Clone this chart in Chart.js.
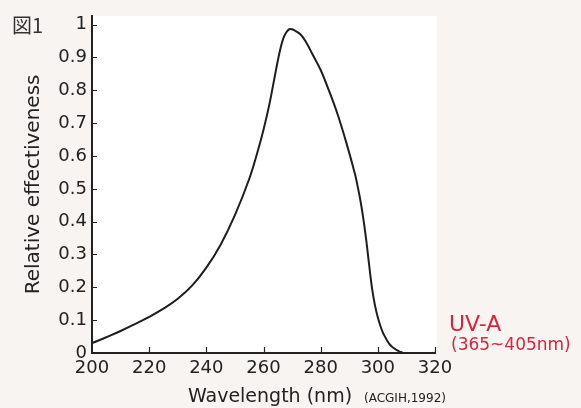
<!DOCTYPE html>
<html>
<head>
<meta charset="utf-8">
<script src="https://cdn.jsdelivr.net/npm/chart.js@4"></script>
<style>
  html, body { margin: 0; padding: 0; background: #f7f4f1; }
  #wrap { width: 581px; height: 408px; }
</style>
</head>
<body>
<div id="wrap"><canvas id="uvChart" width="581" height="408"></canvas></div>
<script>
// ACGIH relative effectiveness curve
const wavelengths = [200, 205, 210, 215, 220, 225, 230, 235, 240, 245, 250, 255, 258, 260, 262, 264, 265, 266, 267, 268, 269, 270, 271, 273, 275, 277, 280, 283, 286, 289, 292, 293, 294, 295, 296, 297, 298, 299, 300, 301, 302, 304, 306, 308, 309];
const effectiveness = [0.03, 0.048, 0.067, 0.088, 0.11, 0.135, 0.165, 0.205, 0.26, 0.33, 0.42, 0.53, 0.615, 0.68, 0.755, 0.845, 0.89, 0.93, 0.96, 0.977, 0.986, 0.986, 0.982, 0.97, 0.945, 0.912, 0.862, 0.797, 0.725, 0.64, 0.545, 0.505, 0.46, 0.405, 0.34, 0.265, 0.195, 0.145, 0.108, 0.08, 0.058, 0.028, 0.012, 0.003, 0];

const xTicks = [200, 220, 240, 260, 280, 300, 320];
const yTicks = [0, 0.1, 0.2, 0.3, 0.4, 0.5, 0.6, 0.7, 0.8, 0.9, 1];

const FONT = "'DejaVu Sans', sans-serif";

/**
 * Page background plus white plot box
 */
const backdrop = {
  id: 'backdrop',
  beforeDraw(chart) {
    const { ctx, chartArea: a } = chart;
    ctx.save();
    ctx.fillStyle = '#f7f4f1';
    ctx.fillRect(0, 0, chart.width, chart.height);
    ctx.fillStyle = '#ffffff';
    ctx.fillRect(a.left, a.top, a.right - a.left + 2, a.bottom - a.top);
    ctx.restore();
  },
};

/**
 * Inward tick marks and the loose labels around the plot
 */
const extras = {
  id: 'extras',
  afterDraw(chart) {
    const { ctx, chartArea: a } = chart;
    const xs = chart.scales.x;
    const ys = chart.scales.y;
    ctx.save();
    ctx.strokeStyle = '#222';
    ctx.lineWidth = 1.2;
    ctx.beginPath();
    yTicks.forEach(v => {
      if (v === 0) return;
      const py = Math.round(ys.getPixelForValue(v)) + 0.5;
      ctx.moveTo(a.left, py);
      ctx.lineTo(a.left + 5, py);
    });
    xTicks.forEach(v => {
      if (v === 200) return;
      const px = Math.round(xs.getPixelForValue(v)) + 0.5;
      ctx.moveTo(px, a.bottom);
      ctx.lineTo(px, a.bottom - 6);
    });
    ctx.stroke();

    ctx.fillStyle = '#222';
    ctx.textBaseline = 'alphabetic';
    ctx.textAlign = 'center';
    ctx.font = `19px ${FONT}`;
    ctx.fillText('Wavelength (nm)', 270, 402);

    ctx.textAlign = 'left';
    ctx.font = `12px ${FONT}`;
    ctx.fillText('(ACGIH,1992)', 364, 402);

    ctx.font = `20px 'Noto Sans CJK JP', ${FONT}`;
    ctx.fillStyle = '#333';
    ctx.fillText('図1', 12, 33);

    ctx.fillStyle = '#d8243c';
    ctx.font = `22px ${FONT}`;
    ctx.fillText('UV-A', 449, 331);
    ctx.font = `17px ${FONT}`;
    ctx.fillText('(365~405nm)', 451, 350);
    ctx.restore();
  },
};

new Chart(document.getElementById('uvChart'), {
  type: 'line',
  data: {
    datasets: [
      {
        label: 'Relative effectiveness',
        data: wavelengths.map((w, i) => ({ x: w, y: effectiveness[i] })),
        borderColor: '#1e1e1e',
        borderWidth: 2,
        pointRadius: 0,
        tension: 0.4,
        fill: false,
      },
    ],
  },
  options: {
    responsive: false,
    animation: false,
    layout: { padding: { top: 13, right: 146, bottom: 0, left: 0 } },
    plugins: {
      legend: { display: false },
      tooltip: { enabled: false },
    },
    scales: {
      x: {
        type: 'linear',
        min: 200,
        max: 320,
        afterBuildTicks: axis => { axis.ticks = xTicks.map(v => ({ value: v })); },
        afterFit: axis => { axis.height = 55; },
        grid: { display: false, drawTicks: false },
        border: { color: '#222', width: 2 },
        ticks: {
          color: '#222',
          font: { family: FONT, size: 18 },
          padding: 5,
          maxRotation: 0,
        },
      },
      y: {
        type: 'linear',
        min: 0,
        max: 1.027,
        afterBuildTicks: axis => { axis.ticks = yTicks.map(v => ({ value: v })); },
        afterFit: axis => { axis.width = 92; },
        grid: { display: false, drawTicks: false },
        border: { color: '#222', width: 2 },
        ticks: {
          color: '#222',
          font: { family: FONT, size: 18 },
          padding: 5,
          callback: v => (v === 0 || v === 1 ? String(v) : v.toFixed(1)),
        },
        title: {
          display: true,
          text: 'Relative effectiveness',
          color: '#222',
          font: { family: FONT, size: 20 },
          padding: { top: 22, bottom: 0 },
        },
      },
    },
  },
  plugins: [backdrop, extras],
});
</script>
</body>
</html>
